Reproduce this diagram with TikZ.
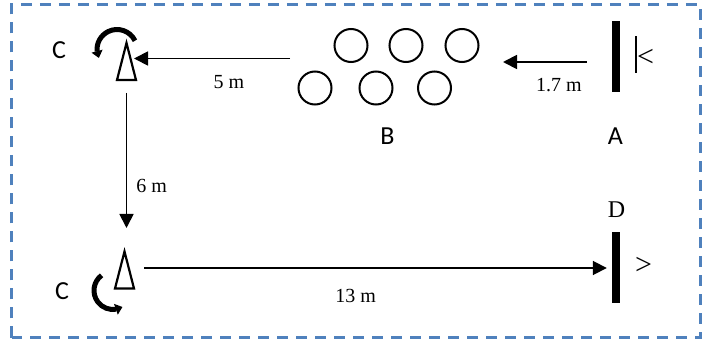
\documentclass[tikz,border=0pt]{standalone}
\usepackage{fontspec}
\setmainfont{Liberation Serif}
\newfontfamily\calibri{Carlito}
\usetikzlibrary{arrows.meta,bending}

\definecolor{frameblue}{RGB}{79,129,189}

\tikzstyle{dist} = [font=\fontsize{20}{24}\selectfont, inner sep=0pt]
\tikzstyle{letter} = [font=\calibri\fontsize{26}{30}\selectfont, inner sep=0pt]
\tikzstyle{sign} = [font=\fontsize{30}{34}\selectfont, inner sep=0pt]
\tikzstyle{ball} = [circle, draw, line width=2pt, minimum size=33pt, inner sep=0pt]
\tikzstyle{wall} = [fill=black, minimum width=8pt, minimum height=71pt, inner sep=0pt]
\tikzstyle{cone} = [minimum width=19pt, minimum height=37pt, inner sep=0pt, outer sep=0pt]
\tikzstyle{conedraw} = [draw, line width=2.2pt, line join=miter]
\tikzstyle{arrowdecorate} = [-{Triangle[length=14pt,width=14pt]}, line width=1.8pt]
\tikzstyle{turn} = [-{Triangle[length=7pt,width=11pt]}, line width=5pt]
\tikzstyle{frame} = [draw=frameblue, line width=2.7pt, dash pattern=on 11pt off 8pt]

\begin{document}
\begin{tikzpicture}[x=1pt,y=1pt]
  \useasboundingbox (0,0) rectangle (702,343);
  \draw[frame] (11.7,5.5) rectangle (700.5,338.3);

  %nodes
  \foreach \nodename/\x/\y in {b1/351/297.5, b2/406/297.5, b3/462/297.5,
    b4/315/255, b5/376/255, b6/434.5/255}
  {
    \node[ball] (\nodename) at (\x,\y) {};
  };
  \node[cone] (ctop) at (126.5,281.5) {};
  \node[cone] (cbot) at (124.5,73) {};
  \foreach \c in {ctop, cbot}
  {
    \draw[conedraw] (\c.south west) -- (\c.north) -- (\c.south east) -- cycle;
  };
  \node[wall] (wallA) at (616,286.5) {};
  \node[wall] (wallD) at (616,75.8) {};
  \coordinate (bL) at (290,284.5);
  \coordinate (aL) at (503,281);
  \coordinate (cR) at ([yshift=2pt]cbot.east);

  %labels
  \foreach \nodename/\x/\y/\name in {labC1/59/293/C, labC2/62/52/C,
    labB/387.5/207/B, labA/615.5/207/A}
  {
    \node[letter] (\nodename) at (\x,\y) {\name};
  };
  \node[dist, font=\fontsize{24}{28}\selectfont] (labD) at (616.5,133) {D};
  \node[sign] (signA) at (645.5,285.5) {<};
  \node[sign] (signD) at (643.5,77.5) {>};
  \draw[line width=1.8pt] (636,270) -- (636,307);

  %turns
  \draw[turn] (117,293.5) ++(26:20) arc[start angle=26, end angle=205, radius=20];
  \draw[turn] (113,52.5) ++(127:19) arc[start angle=127, end angle=300, radius=19];

  %edges
  \draw[arrowdecorate, shorten >=-2pt] (bL) -- (bL -| ctop.east)
    node[dist, pos=0.396, below=16.5pt] {5 m};
  \draw[arrowdecorate, shorten <=25pt] (wallA.west |- aL) -- (aL)
    node[dist, pos=0.486, below=15.5pt] {1.7 m};
  \draw[arrowdecorate, shorten <=13pt, shorten >=23.5pt] (ctop.south) -- (ctop.south |- cbot.north)
    node[dist, pos=0.618, right=9pt] {6 m};
  \draw[arrowdecorate, shorten <=10pt, shorten >=5pt] (cR) -- (cR -| wallD.west)
    node[dist, pos=0.464, below=20.5pt] {13 m};
\end{tikzpicture}
\end{document}
